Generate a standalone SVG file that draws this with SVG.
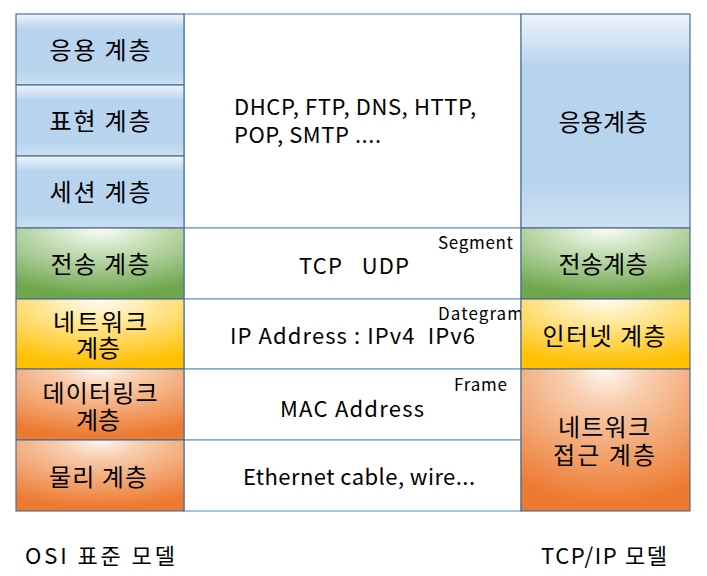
<svg xmlns="http://www.w3.org/2000/svg" width="707" height="576" viewBox="0 0 707 576">
<defs>
<linearGradient id="gBlue" x1="0" y1="0" x2="0" y2="1">
<stop offset="0" stop-color="#eef4fb"/>
<stop offset="0.22" stop-color="#b8d3ee"/>
<stop offset="0.8" stop-color="#b9d4ee"/>
<stop offset="1" stop-color="#cde0f3"/>
</linearGradient>
<linearGradient id="gBlueR" x1="0" y1="0" x2="0" y2="1">
<stop offset="0" stop-color="#eef4fb"/>
<stop offset="0.25" stop-color="#b8d3ee"/>
<stop offset="0.8" stop-color="#b9d4ee"/>
<stop offset="1" stop-color="#cde0f3"/>
</linearGradient>
<radialGradient id="gGreen" cx="0.5" cy="0" r="0.95" fx="0.5" fy="0">
<stop offset="0" stop-color="#fbfdf9"/>
<stop offset="0.25" stop-color="#d7e8cb"/>
<stop offset="1" stop-color="#6ea64c"/>
</radialGradient>
<radialGradient id="gYellow" cx="0.5" cy="0" r="0.95" fx="0.5" fy="0">
<stop offset="0" stop-color="#fffdf5"/>
<stop offset="0.25" stop-color="#ffeeb5"/>
<stop offset="1" stop-color="#ffc000"/>
</radialGradient>
<radialGradient id="gOrange" cx="0.5" cy="0" r="0.95" fx="0.5" fy="0">
<stop offset="0" stop-color="#fef8f3"/>
<stop offset="0.25" stop-color="#f8cfb1"/>
<stop offset="1" stop-color="#ec7a30"/>
</radialGradient>
</defs>
<style>
.cell{stroke:#4e6f94;stroke-width:1.2}
.mid{fill:#ffffff;stroke:#6f9ccc;stroke-width:1.2}
text{font-family:"Malgun Gothic","Noto Sans CJK KR","Noto Sans",sans-serif;fill:#000}
.lbl{font-size:24px;text-anchor:middle}
.m{font-size:22px}
.s{font-size:17px}
.cap{font-size:22px}
</style>
<rect width="707" height="576" fill="#ffffff"/>
<g id="middle">
<rect class="mid" x="184" y="14" width="337" height="214"/>
<rect class="mid" x="184" y="228" width="337" height="71"/>
<rect class="mid" x="184" y="299" width="337" height="70"/>
<rect class="mid" x="184" y="369" width="337" height="71"/>
<rect class="mid" x="184" y="440" width="337" height="71"/>
<text class="m" x="234" y="115" textLength="242" lengthAdjust="spacing">DHCP, FTP, DNS, HTTP,</text>
<text class="m" x="234" y="143" textLength="147" lengthAdjust="spacing">POP, SMTP ....</text>
<text class="m" x="299" y="274" textLength="110" lengthAdjust="spacing" xml:space="preserve">TCP   UDP</text>
<text class="s" x="438" y="249" textLength="75" lengthAdjust="spacing">Segment</text>
<text class="s" x="438" y="320" textLength="85" lengthAdjust="spacing">Dategram</text>
<text class="m" x="230" y="344" textLength="245" lengthAdjust="spacing" xml:space="preserve">IP Address : IPv4  IPv6</text>
<text class="s" x="454" y="391" textLength="53" lengthAdjust="spacing">Frame</text>
<text class="m" x="280" y="417" textLength="144" lengthAdjust="spacing">MAC Address</text>
<text class="m" x="243" y="485" textLength="232" lengthAdjust="spacing">Ethernet cable, wire...</text>
</g>
<g id="osi-app"><rect class="cell" x="16" y="14" width="168" height="71" fill="url(#gBlue)"/><text class="lbl" x="100" y="59" textLength="101" lengthAdjust="spacing">응용 계층</text></g>
<g id="osi-pres"><rect class="cell" x="16" y="85" width="168" height="71" fill="url(#gBlue)"/><text class="lbl" x="100" y="130" textLength="101" lengthAdjust="spacing">표현 계층</text></g>
<g id="osi-sess"><rect class="cell" x="16" y="156" width="168" height="72" fill="url(#gBlue)"/><text class="lbl" x="100" y="201" textLength="101" lengthAdjust="spacing">세션 계층</text></g>
<g id="osi-trans"><rect class="cell" x="16" y="228" width="168" height="71" fill="url(#gGreen)"/><text class="lbl" x="100" y="273" textLength="99" lengthAdjust="spacing">전송 계층</text></g>
<g id="osi-net"><rect class="cell" x="16" y="299" width="168" height="70" fill="url(#gYellow)"/><text class="lbl" x="100" y="331" textLength="94" lengthAdjust="spacing">네트워크</text><text class="lbl" x="98" y="357" textLength="44" lengthAdjust="spacing">계층</text></g>
<g id="osi-link"><rect class="cell" x="16" y="369" width="168" height="71" fill="url(#gOrange)"/><text class="lbl" x="100" y="402" textLength="115" lengthAdjust="spacing">데이터링크</text><text class="lbl" x="98" y="429" textLength="44" lengthAdjust="spacing">계층</text></g>
<g id="osi-phys"><rect class="cell" x="16" y="440" width="168" height="71" fill="url(#gOrange)"/><text class="lbl" x="98" y="486" textLength="98" lengthAdjust="spacing">물리 계층</text></g>
<g id="tcp-app"><rect class="cell" x="521" y="14" width="169" height="214" fill="url(#gBlueR)"/><text class="lbl" x="603" y="131" textLength="89" lengthAdjust="spacing">응용계층</text></g>
<g id="tcp-trans"><rect class="cell" x="521" y="228" width="169" height="71" fill="url(#gGreen)"/><text class="lbl" x="603" y="273" textLength="89" lengthAdjust="spacing">전송계층</text></g>
<g id="tcp-inet"><rect class="cell" x="521" y="299" width="169" height="70" fill="url(#gYellow)"/><text class="lbl" x="604" y="345" textLength="123" lengthAdjust="spacing">인터넷 계층</text></g>
<g id="tcp-netacc"><rect class="cell" x="521" y="369" width="169" height="142" fill="url(#gOrange)"/><text class="lbl" x="604" y="436" textLength="92" lengthAdjust="spacing">네트워크</text><text class="lbl" x="604" y="464" textLength="102" lengthAdjust="spacing">접근 계층</text></g>
<g id="captions">
<text class="cap" x="25" y="564" textLength="150" lengthAdjust="spacing">OSI 표준 모델</text>
<text class="cap" x="541" y="564" textLength="126" lengthAdjust="spacing">TCP/IP 모델</text>
</g>
<g id="connectors"></g>
</svg>
